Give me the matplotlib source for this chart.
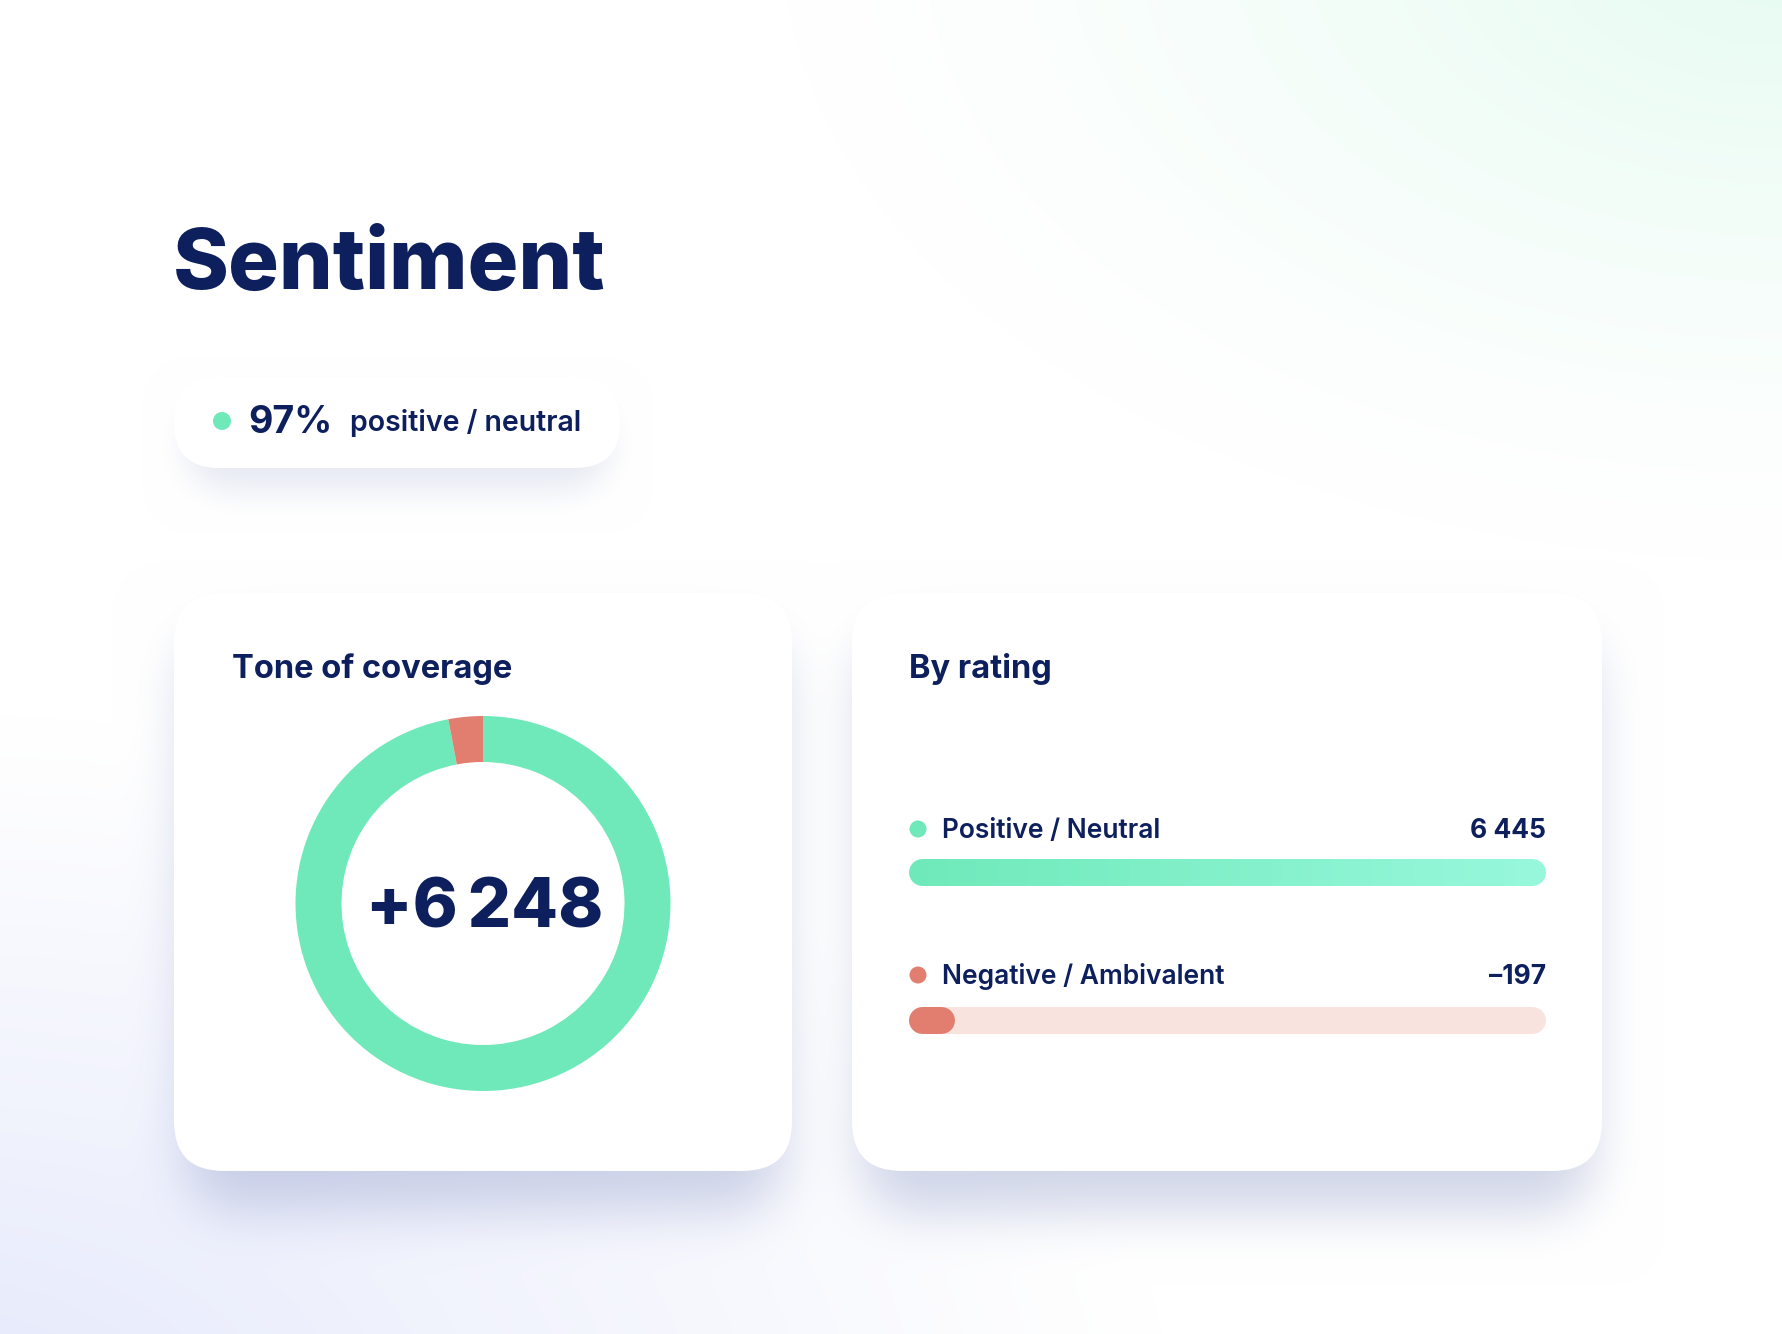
import numpy as np
import matplotlib
matplotlib.use("Agg")
import matplotlib.pyplot as plt
from matplotlib.patches import FancyBboxPatch, Circle
from matplotlib.collections import LineCollection

# ---------------- data ----------------
title = "Sentiment"
share_suffix = "positive / neutral"
card_titles = ["Tone of coverage", "By rating"]
categories = ["Positive / Neutral", "Negative / Ambivalent"]
values = [6445, -197]

# ---------------- style ----------------
plt.rcParams["font.family"] = ["Inter", "DejaVu Sans"]
W, H, DPI = 1782, 1334, 100
NAVY = "#0D1F5C"
GREEN = "#6FE9BA"
GREEN_LIGHT = "#96F7DA"
RED = "#E27E70"
TRACK_RED = "#F9E3DF"
cat_colors = [GREEN, RED]

pos_total = values[0]
neg_total = abs(values[1])
share = round(100 * pos_total / (pos_total + neg_total))
net = pos_total - neg_total


def fmt(n, sep=" "):
    s = f"{abs(n):,}".replace(",", sep)
    return ("\u2013" if n < 0 else "") + s


# ---------------- background ----------------
yy, xx = np.mgrid[0:H, 0:W].astype(float)
bg = np.ones((H, W, 3))
d = np.hypot((xx - W) / 1000.0, (yy + 60) / 620.0)
g = np.clip(1 - d, 0, 1) ** 1.3
green_tint = np.array([0.90, 0.985, 0.945])
bg = bg * (1 - g[..., None]) + green_tint * g[..., None]
d2 = np.hypot((xx + 80) / 1250.0, (yy - H - 80) / 700.0)
l = np.clip(1 - d2, 0, 1) ** 1.1
lav = np.array([0.895, 0.91, 0.985])
bg = bg * (1 - l[..., None]) + lav * l[..., None]


def rrect_mask(x0, y0, x1, y1, r):
    cx = np.clip(xx, x0 + r, x1 - r)
    cy = np.clip(yy, y0 + r, y1 - r)
    return (np.hypot(xx - cx, yy - cy) <= r).astype(float)


def box_blur(a, r, passes=3):
    for _ in range(passes):
        for axis in (0, 1):
            p = np.pad(a, [(r + 1, r) if i == axis else (0, 0) for i in range(2)], mode="edge")
            c = np.cumsum(p, axis=axis)
            if axis == 0:
                a = (c[2 * r + 1:, :] - c[:-2 * r - 1, :]) / (2 * r + 1)
            else:
                a = (c[:, 2 * r + 1:] - c[:, :-2 * r - 1]) / (2 * r + 1)
    return a


cards = [(174, 593, 792, 1171), (852, 593, 1602, 1171)]
pill = (174, 377, 620, 468)

shadow = np.zeros((H, W))
for (x0, y0, x1, y1) in cards:
    shadow = np.maximum(shadow, rrect_mask(x0 + 10, y0 + 40, x1 - 10, y1 + 40, 50))
shadow = box_blur(shadow, 24) * 0.40
ps = rrect_mask(pill[0] + 10, pill[1] + 22, pill[2] - 10, pill[3] + 22, 45)
ps = box_blur(ps, 14) * 0.20
shadow = np.maximum(shadow, ps)
shadow_col = np.array([0.55, 0.60, 0.78])
bg = bg * (1 - shadow[..., None]) + shadow_col * shadow[..., None]

fig = plt.figure(figsize=(W / DPI, H / DPI), dpi=DPI)
ax = fig.add_axes([0, 0, 1, 1])
ax.set_xlim(0, W)
ax.set_ylim(H, 0)
ax.axis("off")
ax.imshow(bg, extent=(0, W, H, 0), zorder=0, interpolation="bilinear")

# cards and pill
for (x0, y0, x1, y1) in cards:
    ax.add_patch(FancyBboxPatch((x0, y0), x1 - x0, y1 - y0,
                                boxstyle="round,pad=0,rounding_size=50",
                                fc="white", ec="none", zorder=1))
ax.add_patch(FancyBboxPatch((pill[0], pill[1]), pill[2] - pill[0], pill[3] - pill[1],
                            boxstyle="round,pad=0,rounding_size=45",
                            fc="white", ec="none", zorder=1))

# texts
ax.text(173, 289, title, fontsize=61, fontweight="heavy", color=NAVY,
        ha="left", va="baseline", zorder=3)
ax.add_patch(Circle((222, 421), 9, fc=GREEN, ec="none", zorder=3))
ax.text(248, 433, f"{share}%", fontsize=27, fontweight="bold", color=NAVY,
        ha="left", va="baseline", zorder=3)
ax.text(350, 431, share_suffix, fontsize=20.5, fontweight="semibold", color=NAVY,
        ha="left", va="baseline", zorder=3)
ax.text(232, 678, card_titles[0], fontsize=23.5, fontweight="bold", color=NAVY,
        ha="left", va="baseline", zorder=3)
ax.text(909, 678, card_titles[1], fontsize=23.5, fontweight="bold", color=NAVY,
        ha="left", va="baseline", zorder=3)

label_baselines = [838, 984]
for i, (cat, v) in enumerate(zip(categories, values)):
    ax.add_patch(Circle((918, label_baselines[i] - 9), 8.5, fc=cat_colors[i], ec="none", zorder=3))
    ax.text(942, label_baselines[i], cat, fontsize=19, fontweight="semibold", color=NAVY,
            ha="left", va="baseline", zorder=3)
    ax.text(1546, label_baselines[i], fmt(v), fontsize=19, fontweight="bold", color=NAVY,
            ha="right", va="baseline", zorder=3)

# ---------------- donut ----------------
cx, cy, R = 483, 903.5, 187.5
dax = fig.add_axes([(cx - R) / W, (H - cy - R) / H, 2 * R / W, 2 * R / H])
dax.pie([pos_total, neg_total], colors=[GREEN, RED], startangle=90, counterclock=False,
        radius=1, wedgeprops=dict(width=46 / R, edgecolor="none", linewidth=0))
dax.set_xlim(-1, 1)
dax.set_ylim(-1, 1)
dax.axis("off")
ax.text(485, 928, "+" + fmt(net, "\u2009"), fontsize=49, fontweight="heavy", color=NAVY,
        ha="center", va="baseline", zorder=3)

# ---------------- rating bars ----------------
bar_px = 27
lw = bar_px * 72 / DPI
bx0, bx1 = 909 + bar_px / 2, 1545 - bar_px / 2
by_top, by_bot = 840, 1050
bax = fig.add_axes([bx0 / W, (H - by_bot) / H, (bx1 - bx0) / W, (by_bot - by_top) / H])
bax.set_facecolor("none")
bax.axis("off")
xmax = max(abs(v) for v in values)
bax.set_xlim(0, xmax)
bax.set_ylim(by_bot, by_top)
bar_y = [872.5, 1020.5]

# positive bar (gradient)
v0 = abs(values[0])
c0 = np.array(matplotlib.colors.to_rgb(GREEN))
c1 = np.array(matplotlib.colors.to_rgb(GREEN_LIGHT))
bax.plot([0, v0 * 0.02], [bar_y[0]] * 2, color=c0, lw=lw, solid_capstyle="round", clip_on=False)
bax.plot([v0 * 0.98, v0], [bar_y[0]] * 2, color=c1, lw=lw, solid_capstyle="round", clip_on=False)
n = 60
xs = np.linspace(0, v0, n + 1)
ov = v0 / n * 0.6
segs = [[(xs[k] - (ov if k else 0), bar_y[0]), (xs[k + 1] + (ov if k < n - 1 else 0), bar_y[0])]
        for k in range(n)]
cols = [c0 + (c1 - c0) * (k + 0.5) / n for k in range(n)]
lc = LineCollection(segs, colors=cols, linewidths=lw, capstyle="butt", antialiaseds=False)
lc.set_clip_on(False)
bax.add_collection(lc)

# negative bar: track + value
bax.plot([0, xmax], [bar_y[1]] * 2, color=TRACK_RED, lw=lw, solid_capstyle="round", clip_on=False)
bax.plot([0, abs(values[1])], [bar_y[1]] * 2, color=RED, lw=lw, solid_capstyle="round", clip_on=False)

fig.savefig("out.png", dpi=DPI)
